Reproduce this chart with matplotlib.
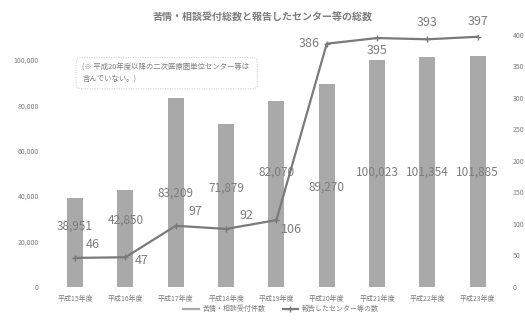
import matplotlib
matplotlib.use("Agg")
import matplotlib.pyplot as plt
from matplotlib.lines import Line2D
from matplotlib.patches import FancyBboxPatch
import numpy as np

plt.rcParams["font.family"] = ["Noto Sans CJK JP", "DejaVu Sans"]

years = ["平成15年度", "平成16年度", "平成17年度", "平成18年度", "平成19年度",
         "平成20年度", "平成21年度", "平成22年度", "平成23年度"]
consults = [38951, 42850, 83209, 71879, 82070, 89270, 100023, 101354, 101885]
centers = [46, 47, 97, 92, 106, 386, 395, 393, 397]

# where each value label sits (left-axis units for bars, offsets in points for the line)
bar_label_y = [26900, 29500, 41500, 43500, 50500, 44000, 50500, 50500, 50500]
line_label_off = [(13, 10), (12, -2), (14, 10), (15, 10), (11, -7), (-13, 0), (0, -9), (0, 12), (0, 11)]

BAR = "#a9a9a9"; LINE = "#7a7a7a"; TXT = "#7d7d7d"

fig = plt.figure(figsize=(5.25, 3.29), dpi=100)
fig.patch.set_facecolor("white")
ax = fig.add_axes([0.095, 0.128, 0.863, 0.766])
ax2 = ax.twinx()

x = np.arange(len(years))
ax.bar(x, consults, 0.32, color=BAR, zorder=1)
for i, v in enumerate(consults):
    ax.text(i, bar_label_y[i], f"{v:,}", ha="center", va="center", fontsize=8.5, color=TXT, zorder=5)

ax2.plot(x, centers, color=LINE, lw=1.6, marker="+", ms=4, mew=1, zorder=3)
for i, v in enumerate(centers):
    dx, dy = line_label_off[i]
    ax2.annotate(str(v), (i, v), xytext=(dx, dy), textcoords="offset points",
                 ha="center", va="center", fontsize=9, color=TXT)

ax.set_xlim(-0.5, len(years) - 0.5)
ax.set_ylim(0, 111000)
ax.set_yticks(np.arange(0, 100001, 20000))
ax.set_yticklabels([f"{t:,}" for t in range(0, 100001, 20000)])
ax2.set_ylim(0, 400)
ax2.set_yticks(np.arange(0, 401, 50))
ax.set_xticks(x)
ax.set_xticklabels(years)

for a in (ax, ax2):
    for s in a.spines.values():
        s.set_visible(False)
    a.tick_params(length=0, labelsize=5, labelcolor=TXT, pad=3)
ax.tick_params(axis="x", pad=6)
ax.tick_params(axis="y", pad=8)
ax2.tick_params(axis="y", pad=7)

fig.text(0.5, 0.948, "苦情・相談受付総数と報告したセンター等の総数",
         ha="center", va="center", fontsize=7.2, fontweight="bold", color=TXT)

# note box
box = FancyBboxPatch((0.145, 0.73), 0.345, 0.095, transform=fig.transFigure,
                     boxstyle="round,pad=0,rounding_size=0.012", fill=False,
                     ec="#c8c8c8", lw=0.7, ls=(0, (1, 1.5)))
fig.add_artist(box)
fig.text(0.157, 0.778, "(※ 平成20年度以降の二次医療圏単位センター等は\n含んでいない。)",
         ha="left", va="center", fontsize=5.3, color=TXT, linespacing=1.5)

handles = [Line2D([], [], color=BAR, lw=1.6),
           Line2D([], [], color=LINE, lw=1.6, marker="+", ms=4)]
fig.legend(handles, ["苦情・相談受付件数", "報告したセンター等の数"], loc="center",
           bbox_to_anchor=(0.535, 0.06), ncol=2, frameon=False, fontsize=5,
           labelcolor=TXT, handlelength=2.2, columnspacing=2.5, handletextpad=0.5)

fig.savefig("out.png", dpi=100, facecolor="white")
